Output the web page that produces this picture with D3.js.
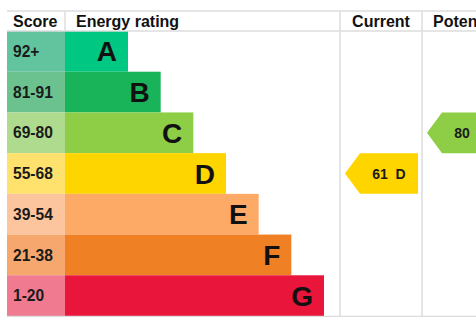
<!DOCTYPE html>
<html>
<head>
<meta charset="utf-8">
<script src="https://cdn.jsdelivr.net/npm/d3@7"></script>
<style>
  body { margin: 0; background: #fff; }
  svg { display: block; font-family: "Liberation Sans", Arial, sans-serif; }
</style>
</head>
<body>
<svg id="chart" width="476" height="317"></svg>
<script>
// data
const ratings = ['A', 'B', 'C', 'D', 'E', 'F', 'G']
const scoreRanges = ['92+', '81-91', '69-80', '55-68', '39-54', '21-38', '1-20']
const barColors = ['#00c781', '#19b459', '#8dce46', '#ffd500', '#fcaa65', '#ef8023', '#e9153b']
const scoreColors = ['#62c49f', '#6cc28f', '#aedb8d', '#ffe16d', '#fdc59d', '#f5a76d', '#f07a8f']
const columns = ['Score', 'Energy rating', 'Current', 'Potential']
const current = { score: 61, rating: 'D' }
const potential = { score: 80, rating: 'C' }

const svg = d3.select('#chart')

const left = 7, headTop = 11, headBottom = 31, bottom = 316
const scoreRight = 65, currentLeft = 340, potentialLeft = 422, potentialRight = 504

const y = d3.scaleBand().domain(ratings).range([headBottom, bottom])
// bar length grows one step per band
const x = d3.scaleLinear().domain([0, ratings.length - 1]).range([128, 324])

const grid = '#dcdcdc'

// header
const head = svg.append('g').attr('font-weight', 'bold').attr('font-size', 16).attr('fill', '#111')
head.append('text').attr('x', 13).attr('y', 27).text(columns[0])
head.append('text').attr('x', 76).attr('y', 27).text(columns[1])
head.append('text').attr('x', (currentLeft + potentialLeft) / 2).attr('y', 27)
  .attr('text-anchor', 'middle').text(columns[2])
head.append('text').attr('x', potentialLeft + 11).attr('y', 27).text(columns[3])

// rows
const rows = svg.append('g').selectAll('g')
  .data(ratings)
  .join('g')
  .attr('transform', d => `translate(0,${y(d)})`)

rows.append('rect')
  .attr('x', left)
  .attr('width', scoreRight - left)
  .attr('height', y.bandwidth())
  .attr('fill', (d, i) => scoreColors[i])

rows.append('rect')
  .attr('x', scoreRight)
  .attr('width', (d, i) => x(i) - scoreRight)
  .attr('height', y.bandwidth())
  .attr('fill', (d, i) => barColors[i])

rows.append('text')
  .attr('x', 13)
  .attr('y', y.bandwidth() / 2)
  .attr('dy', '0.36em')
  .attr('font-size', 15.6)
  .attr('font-weight', 'bold')
  .attr('fill', '#1a1a1a')
  .text((d, i) => scoreRanges[i])

rows.append('text')
  .attr('x', (d, i) => x(i) - 11)
  .attr('y', y.bandwidth() / 2)
  .attr('dy', '0.36em')
  .attr('text-anchor', 'end')
  .attr('font-size', 28)
  .attr('font-weight', 'bold')
  .attr('fill', '#111')
  .text(d => d)

// grid lines
const lines = svg.append('g').attr('stroke', grid).attr('stroke-width', 1.5)
lines.append('line').attr('x1', left).attr('x2', 476).attr('y1', headTop).attr('y2', headTop)
lines.append('line').attr('x1', left).attr('x2', 476).attr('y1', headBottom).attr('y2', headBottom)
lines.append('line').attr('x1', left).attr('x2', 476).attr('y1', bottom + 0.5).attr('y2', bottom + 0.5)
lines.append('line').attr('x1', scoreRight).attr('x2', scoreRight).attr('y1', headTop).attr('y2', headBottom)
;[currentLeft, potentialLeft].forEach(cx => {
  lines.append('line').attr('x1', cx).attr('x2', cx).attr('y1', headTop).attr('y2', bottom)
})

// arrows
function arrow(item, x0, x1) {
  const i = ratings.indexOf(item.rating)
  const top = y(item.rating), h = y.bandwidth()
  const tip = 15
  const g = svg.append('g')
  g.append('path')
    .attr('d', `M${x0},${top + h / 2} L${x0 + tip},${top} L${x1},${top} L${x1},${top + h} L${x0 + tip},${top + h} Z`)
    .attr('fill', barColors[i])
  g.append('text')
    .attr('x', (x0 + tip + x1) / 2)
    .attr('y', top + h / 2)
    .attr('dy', '0.36em')
    .attr('text-anchor', 'middle')
    .attr('font-size', 14)
    .attr('font-weight', 'bold')
    .attr('fill', '#1a1a1a')
    .attr('xml:space', 'preserve')
    .text(`${item.score}  ${item.rating}`)
}
arrow(current, currentLeft + 5, potentialLeft - 4)
arrow(potential, potentialLeft + 5, potentialRight - 4)
</script>
</body>
</html>
